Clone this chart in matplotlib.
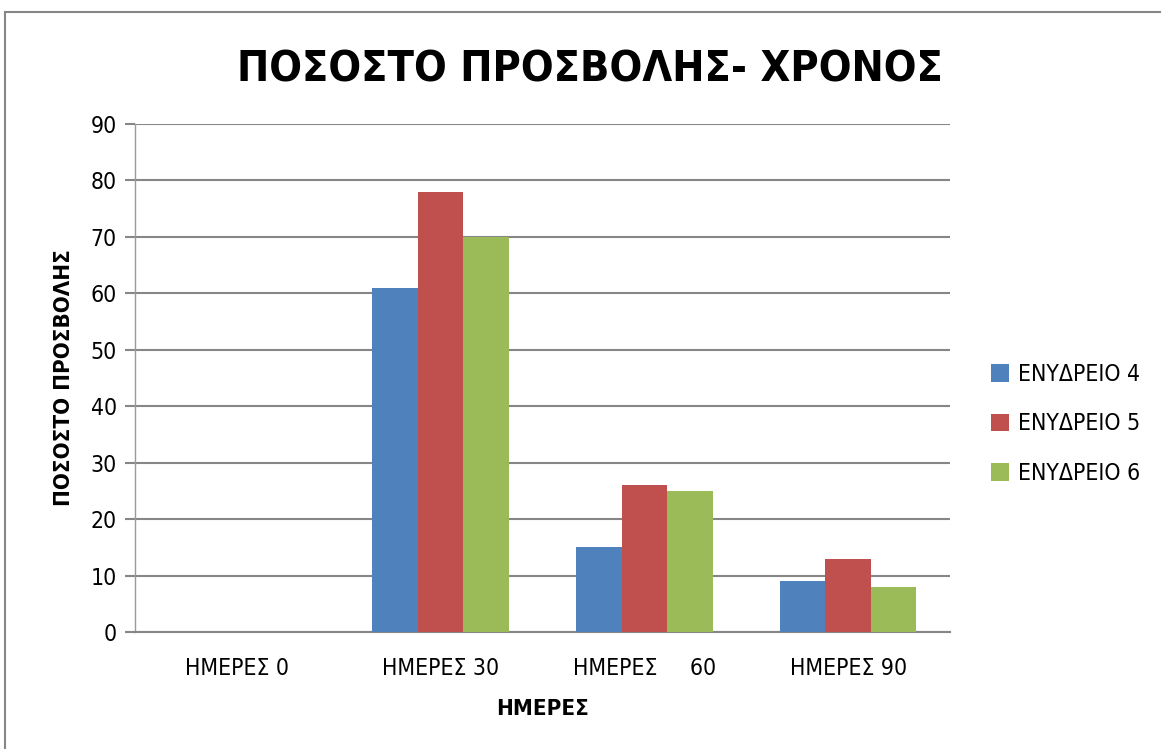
import matplotlib
matplotlib.use("Agg")
import matplotlib.pyplot as plt
import numpy as np
from matplotlib.patches import Rectangle

plt.rcParams['font.family'] = ['DejaVu Sans']
plt.rcParams['font.stretch'] = 'condensed'

categories = ["ΗΜΕΡΕΣ 0", "ΗΜΕΡΕΣ 30", "ΗΜΕΡΕΣ     60", "ΗΜΕΡΕΣ 90"]
series_names = ["ΕΝΥΔΡΕΙΟ 4", "ΕΝΥΔΡΕΙΟ 5", "ΕΝΥΔΡΕΙΟ 6"]
enydreio4 = [0, 61, 15, 9]
enydreio5 = [0, 78, 26, 13]
enydreio6 = [0, 70, 25, 8]
colors = ["#4f81bd", "#c0504d", "#9bbb59"]

fig = plt.figure(figsize=(11.61, 7.49), dpi=100)
ax = fig.add_axes([135/1161, 1 - 632/749, 815/1161, 508/749])

# chart border
fig.patches.append(Rectangle((5/1161, -0.1), 1.2, 1 - 12/749 + 0.1, transform=fig.transFigure,
                             fill=False, edgecolor="#868686", linewidth=1.5))

x = np.arange(len(categories))
w = 0.223
for i, (vals, name) in enumerate(zip([enydreio4, enydreio5, enydreio6], series_names)):
    ax.bar(x + (i - 1) * w, vals, width=w, color=colors[i], label=name, zorder=3)

ax.set_xlim(-0.5, 3.5)
ax.set_ylim(0, 90)
ax.set_yticks(range(0, 91, 10))
ax.yaxis.grid(True, color="#868686", linewidth=1.5, zorder=0)
ax.set_xticks(x)
ax.set_xticklabels(categories, fontsize=16.5)
ax.tick_params(axis='y', labelsize=16.5, length=7, color="#868686", width=1.5, pad=6)
ax.tick_params(axis='x', length=0, pad=18)
for s in ['top', 'right']:
    ax.spines[s].set_visible(False)
ax.spines['left'].set_color("#9a9a9a")
ax.spines['left'].set_linewidth(1)
ax.spines['bottom'].set_color("#868686")
ax.spines['bottom'].set_linewidth(1.5)

ax.set_xlabel("ΗΜΕΡΕΣ", fontsize=16, fontweight='bold', labelpad=14)
ax.set_ylabel("ΠΟΣΟΣΤΟ ΠΡΟΣΒΟΛΗΣ", fontsize=16, fontweight='bold', labelpad=12)
fig.suptitle("ΠΟΣΟΣΤΟ ΠΡΟΣΒΟΛΗΣ- ΧΡΟΝΟΣ", fontsize=31, fontweight='bold', x=590/1161, y=0.935)

ax.legend(loc='center left', bbox_to_anchor=(970/815 - 135/815, (632 - 424)/508), frameon=False,
          fontsize=16.5, handlelength=0.8, handleheight=0.8, handletextpad=0.4, labelspacing=1.15)

fig.savefig("out.png", dpi=100)
